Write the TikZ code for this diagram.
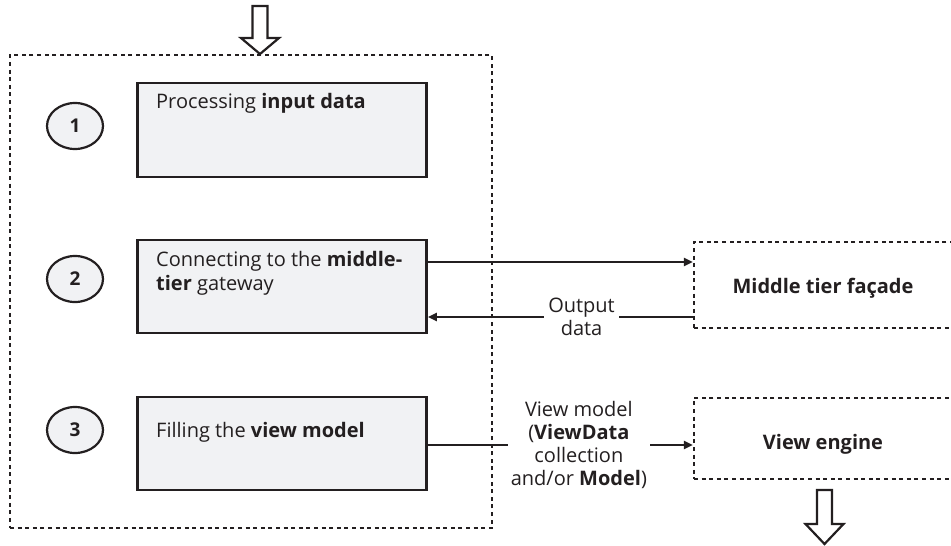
\documentclass[tikz,border=0pt]{standalone}
\usepackage{fontspec}
\setmainfont{Open Sans}
\usetikzlibrary{shapes.geometric,arrows.meta}
\definecolor{ink}{HTML}{231F20}
\definecolor{boxfill}{HTML}{F1F2F4}
\tikzset{
  stepbox/.style={draw=ink, line width=2.6pt, fill=boxfill, inner sep=0pt},
  dashbox/.style={draw=ink, line width=2.3pt, dash pattern=on 4pt off 3.6pt, inner sep=0pt},
  numcirc/.style={ellipse, draw=ink, line width=2.2pt, fill=boxfill, minimum width=56pt, minimum height=46pt, inner sep=0pt, font=\fontsize{19}{20}\selectfont\bfseries, text=ink},
  lbl/.style={font=\fontsize{20}{24}\selectfont, text=ink, inner sep=0pt},
  conn/.style={draw=ink, line width=2.1pt, -{Triangle[length=9pt,width=8pt]}},
  hollow/.style={draw=ink, line width=2.2pt, fill=white, line join=miter},
}
\begin{document}
\begin{tikzpicture}[x=1pt,y=-1pt]
\useasboundingbox (0,0) rectangle (951,546);
% outer dashed frame
\node[dashbox, minimum width=482pt, minimum height=473pt] (outer) at (251,291.5) {};
% top input arrow
\coordinate (inTip) at (260,54);
\draw[hollow] (252.5,6) -- (267.5,6) -- (267.5,38) -- (279,38) -- (inTip) -- (241,38) -- (252.5,38) -- cycle;
% step boxes
\node[stepbox, minimum width=289pt, minimum height=94pt] (b1) at (282,130) {};
\node[stepbox, minimum width=289pt, minimum height=93pt] (b2) at (282,286.5) {};
\node[stepbox, minimum width=289pt, minimum height=93pt] (b3) at (282,443.5) {};
\node[lbl, anchor=west] (t1) at (156,103) {Processing \textbf{input data}};
\node[lbl, anchor=base west, align=left] (t2) at (156,290) {Connecting to the \textbf{middle-}\\\textbf{tier} gateway};
\node[lbl, anchor=west] (t3) at (156,432) {Filling the \textbf{view model}};
% numbers
\node[numcirc] (c1) at (75,126) {1};
\node[numcirc] (c2) at (75,279) {2};
\node[numcirc] (c3) at (75,430) {3};
% right boxes
\node[dashbox, minimum width=258pt, minimum height=86pt] (mt) at (823,285) {};
\node[lbl, font=\fontsize{20}{24}\selectfont\bfseries] (mtl) at (823,288) {Middle tier façade};
\node[dashbox, minimum width=258pt, minimum height=81pt] (ve) at (823,438.5) {};
\node[lbl, font=\fontsize{20}{24}\selectfont\bfseries] (vel) at (823,444) {View engine};
% connectors
\draw[conn] ([yshift=24.5pt]b2.east) -- ([yshift=23pt]mt.west);
\draw[conn] ([yshift=-32pt]mt.west) -- ([yshift=-30.5pt]b2.east)
  node[pos=0.42, fill=white, lbl, align=center, font=\fontsize{20}{23}\selectfont, inner xsep=4pt] (od) {Output\\data};
\draw[conn] ([yshift=-1.5pt]b3.east) -- ([yshift=-6.5pt]ve.west)
  node[pos=0.57, fill=white, lbl, align=center, font=\fontsize{20}{23}\selectfont, inner xsep=3pt] (vm) {View model\\(\textbf{ViewData}\\collection\\and/or \textbf{Model})};
% bottom output arrow
\coordinate (outTip) at (824.5,544);
\draw[hollow] (817,490) -- (832,490) -- (832,524) -- (843.5,524) -- (outTip) -- (805.5,524) -- (817,524) -- cycle;
\end{tikzpicture}
\end{document}
